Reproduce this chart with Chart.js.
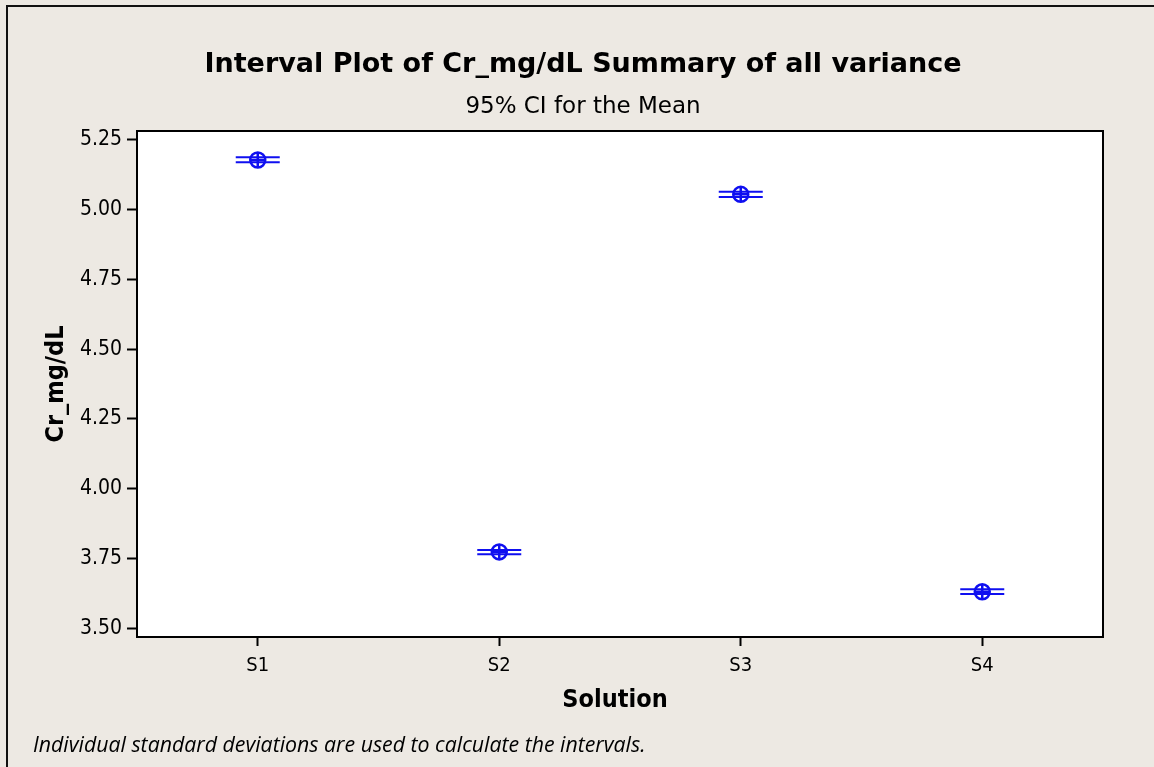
<!DOCTYPE html>
<html>
<head>
<meta charset="utf-8">
<script src="https://cdn.jsdelivr.net/npm/chart.js@4"></script>
<style>
  body { margin: 0; background: #ede9e3; }
  canvas { display: block; }
</style>
</head>
<body>
<canvas id="chart" width="1154" height="767"></canvas>
<script>
// Dados (média e IC 95%)
const solutions = ["S1", "S2", "S3", "S4"];
const means = [5.178, 3.773, 5.055, 3.630];
const upperCI = [5.188, 3.780, 5.064, 3.639];
const lowerCI = [5.170, 3.765, 5.045, 3.622];
const yTicks = [3.50, 3.75, 4.00, 4.25, 4.50, 4.75, 5.00, 5.25];

const BLUE = "rgb(15,15,240)";
const BG = "#ede9e3";
const FONT = "'DejaVu Sans Condensed', 'DejaVu Sans', sans-serif";
const WIDE = "'DejaVu Sans', sans-serif";

// Fundo, moldura e textos
const decor = {
  id: "decor",
  beforeDraw(chart) {
    const { ctx, chartArea: a } = chart;
    ctx.save();
    ctx.fillStyle = BG;
    ctx.fillRect(0, 0, chart.width, chart.height);
    ctx.strokeStyle = "#111";
    ctx.lineWidth = 2;
    ctx.beginPath();
    ctx.moveTo(7, chart.height + 5);
    ctx.lineTo(7, 6);
    ctx.lineTo(chart.width + 5, 6);
    ctx.stroke();
    ctx.fillStyle = "#fff";
    ctx.fillRect(a.left, a.top, a.right - a.left, a.bottom - a.top);
    ctx.restore();
  },
  afterDraw(chart) {
    const { ctx, chartArea: a } = chart;
    ctx.save();
    ctx.strokeStyle = "#000";
    ctx.lineWidth = 2;
    ctx.strokeRect(a.left, a.top, a.right - a.left, a.bottom - a.top);

    ctx.fillStyle = "#000";
    ctx.textAlign = "center";
    ctx.textBaseline = "alphabetic";
    ctx.font = "bold 27px " + WIDE;
    ctx.fillText("Interval Plot of Cr_mg/dL Summary of all variance", 583, 72);
    ctx.font = "23px " + WIDE;
    ctx.fillText("95% CI for the Mean", 583, 113);

    ctx.font = "bold 25px " + FONT;
    ctx.fillText("Solution", (a.left + a.right) / 2 - 5, 707);
    ctx.save();
    ctx.translate(63, (a.top + a.bottom) / 2);
    ctx.rotate(-Math.PI / 2);
    ctx.fillText("Cr_mg/dL", 0, 0);
    ctx.restore();

    ctx.textAlign = "left";
    ctx.font = "italic 21.3px 'Open Sans', sans-serif";
    ctx.fillText("Individual standard deviations are used to calculate the intervals.", 33, 752);
    ctx.restore();
  }
};

function markerSet(data, style, radius, width) {
  return {
    data,
    showLine: false,
    pointStyle: style,
    pointRadius: radius,
    pointHoverRadius: radius,
    pointBorderWidth: width,
    pointBorderColor: BLUE,
    pointBackgroundColor: "rgba(0,0,0,0)",
    borderColor: BLUE
  };
}

new Chart(document.getElementById("chart"), {
  type: "line",
  data: {
    labels: solutions,
    datasets: [
      markerSet(upperCI, "line", 22, 2),
      markerSet(lowerCI, "line", 22, 2),
      markerSet(means, "circle", 7.5, 2.5),
      markerSet(means, "cross", 7.5, 2.5)
    ]
  },
  options: {
    responsive: false,
    animation: false,
    events: [],
    layout: { padding: { top: 131, right: 51, left: 0, bottom: 0 } },
    plugins: { legend: { display: false }, tooltip: { enabled: false } },
    scales: {
      x: {
        type: "category",
        offset: true,
        afterFit(scale) { scale.height = 130; },
        grid: { drawOnChartArea: false, drawTicks: true, tickLength: 9, tickColor: "#000", tickWidth: 2, offset: false },
        border: { display: true, color: "#000", width: 2 },
        ticks: { color: "#000", padding: 8, font: { family: FONT, size: 20 } }
      },
      y: {
        min: 3.468,
        max: 5.282,
        afterFit(scale) { scale.width = 137; },
        afterBuildTicks(scale) { scale.ticks = yTicks.map(v => ({ value: v })); },
        grid: { drawOnChartArea: false, drawTicks: true, tickLength: 10, tickColor: "#000", tickWidth: 2 },
        border: { display: true, color: "#000", width: 2 },
        ticks: {
          color: "#000",
          padding: 5,
          font: { family: FONT, size: 21 },
          callback: v => Number(v).toFixed(2)
        }
      }
    }
  },
  plugins: [decor]
});
</script>
</body>
</html>
